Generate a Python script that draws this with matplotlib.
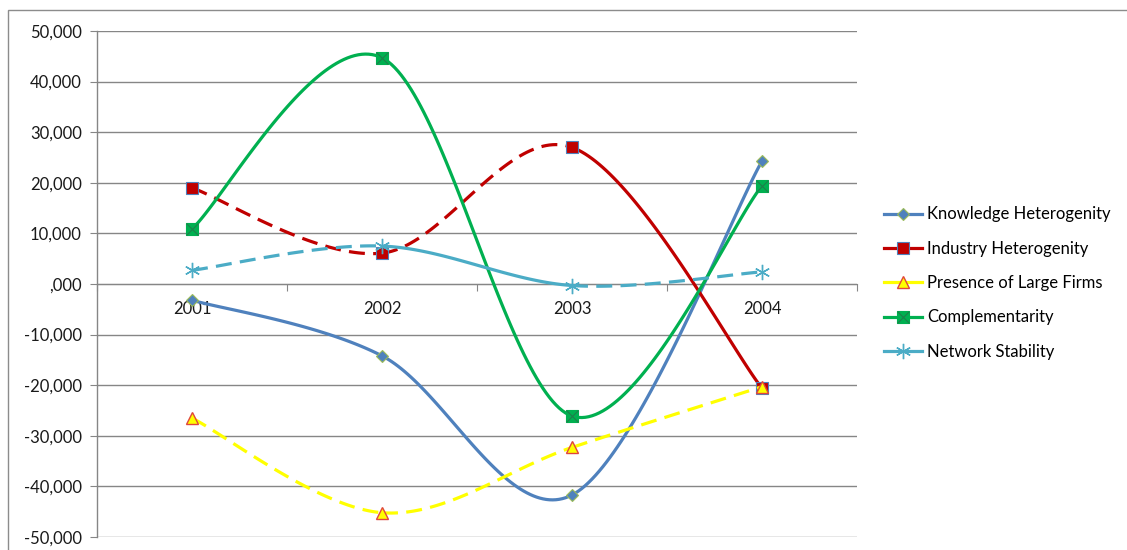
import numpy as np
import matplotlib.pyplot as plt
from matplotlib.lines import Line2D
from matplotlib.patches import Rectangle
from matplotlib.ticker import FuncFormatter

plt.rcParams['font.family'] = ['Lato', 'DejaVu Sans']

years = ["2001", "2002", "2003", "2004"]
series_names = ["Knowledge Heterogenity", "Industry Heterogenity",
                "Presence of Large Firms", "Complementarity", "Network Stability"]
knowledge = [-3200, -14200, -41700, 24300]
industry = [19000, 6100, 27000, -20600]
presence = [-26500, -45200, -32300, -20300]
complementarity = [10900, 44700, -26100, 19400]
network = [2700, 7500, -300, 2400]

# per-segment line styles (True = dashed), as in the original workbook
seg_dashed = {
    "Knowledge Heterogenity": [False, False, False],
    "Industry Heterogenity": [True, True, False],
    "Presence of Large Firms": [True, True, True],
    "Complementarity": [False, False, False],
    "Network Stability": [True, False, True],
}
colors = {
    "Knowledge Heterogenity": "#4F81BD",
    "Industry Heterogenity": "#C00000",
    "Presence of Large Firms": "#FFFF00",
    "Complementarity": "#00B050",
    "Network Stability": "#4BACC6",
}
STAR = (6, 2, 0)
markers = {
    "Knowledge Heterogenity": dict(marker="D", markersize=6, markerfacecolor="#4F81BD", markeredgecolor="#9BBB59", markeredgewidth=0.8),
    "Industry Heterogenity": dict(marker="s", markersize=8, markerfacecolor="#C00000", markeredgecolor="#4F81BD", markeredgewidth=0.8),
    "Presence of Large Firms": dict(marker="^", markersize=9, markerfacecolor="#FFFF00", markeredgecolor="#E0463C", markeredgewidth=1.0),
    "Complementarity": dict(marker="s", markersize=9, markerfacecolor="#00B050", markeredgecolor="#00B050", markeredgewidth=0.8),
    "Network Stability": dict(marker=STAR, markersize=11, markerfacecolor="#4BACC6", markeredgecolor="#4BACC6", markeredgewidth=1.0),
}

LW = 2.3
FS = 12


def smooth_segment(xs, ys, i, n=60):
    # Excel-style smoothing: cubic bezier with Catmull-Rom control points
    P = np.column_stack([xs, ys]).astype(float)
    prev = P[i - 1] if i > 0 else P[i]
    nxt = P[i + 2] if i + 2 < len(P) else P[i + 1]
    c1 = P[i] + (P[i + 1] - prev) / 6.0
    c2 = P[i + 1] - (nxt - P[i]) / 6.0
    t = np.linspace(0, 1, n)[:, None]
    b = (1 - t) ** 3 * P[i] + 3 * (1 - t) ** 2 * t * c1 + 3 * (1 - t) * t ** 2 * c2 + t ** 3 * P[i + 1]
    return b[:, 0], b[:, 1]


fig = plt.figure(figsize=(11.27, 5.50), dpi=100)
fig.patches.append(Rectangle((8 / 1127, -0.1), 1.2, 1.1 - 10 / 550,
                             transform=fig.transFigure, fill=False,
                             edgecolor="#8C8C8C", linewidth=1.0))
ax = fig.add_axes([97 / 1127, 1 - 537 / 550, 760 / 1127, 506 / 550])

x = np.arange(len(years))
data = {
    "Knowledge Heterogenity": knowledge,
    "Industry Heterogenity": industry,
    "Presence of Large Firms": presence,
    "Complementarity": complementarity,
    "Network Stability": network,
}

handles = []
for k, name in enumerate(series_names):
    ys = data[name]
    for i in range(len(x) - 1):
        sx, sy = smooth_segment(x, ys, i)
        if seg_dashed[name][i]:
            ax.plot(sx, sy, color=colors[name], lw=LW, dashes=(5, 2.6),
                    solid_capstyle="butt", zorder=3 + k)
        else:
            ax.plot(sx, sy, color=colors[name], lw=LW, solid_capstyle="round", zorder=3 + k)
    ax.plot(x, ys, linestyle="none", zorder=3.5 + k, **markers[name])
    h = Line2D([], [], color=colors[name], lw=LW, **markers[name])
    if name == "Complementarity":
        ax.plot(x, ys, linestyle="none", marker="x", markersize=8,
                markeredgecolor="#1E7F4A", markeredgewidth=0.8, zorder=3.6 + k)
        hx = Line2D([], [], linestyle="none", marker="x", markersize=8,
                    markeredgecolor="#1E7F4A", markeredgewidth=0.8)
        h = (h, hx)
    handles.append(h)

ax.set_xlim(-0.5, 3.5)
ax.set_ylim(-50000, 50000)
ax.set_yticks(np.arange(-50000, 50001, 10000))
ax.yaxis.set_major_formatter(FuncFormatter(
    lambda v, p: ",000" if v == 0 else f"{int(v):,}"))
ax.grid(axis="y", color="#868686", linewidth=1.0, zorder=0)
ax.set_axisbelow(True)

for s in ["top", "right"]:
    ax.spines[s].set_visible(False)
ax.spines["bottom"].set_position(("data", 0))
ax.spines["bottom"].set_color("#868686")
ax.spines["left"].set_color("#868686")
ax.spines["left"].set_linewidth(1.0)

ax.set_xticks([-0.5, 0.5, 1.5, 2.5, 3.5])
ax.set_xticklabels([])
ax.set_xticks(x, minor=True)
ax.set_xticklabels(years, minor=True)
ax.tick_params(axis="x", which="major", direction="out", length=5, color="#868686")
ax.tick_params(axis="x", which="minor", length=0, pad=12, labelsize=FS, labelcolor="#1a1a1a")
ax.tick_params(axis="y", direction="out", length=5, color="#868686", pad=6,
               labelsize=FS, labelcolor="#1a1a1a")
for lbl in ax.get_xticklabels(minor=True):
    lbl.set_zorder(2)

fig.legend(handles, series_names, loc="center left",
           bbox_to_anchor=(884 / 1127, 1 - 283 / 550), frameon=False,
           fontsize=FS, handlelength=2.3, handletextpad=0.3,
           labelspacing=1.1, borderaxespad=0, borderpad=0, numpoints=1)

fig.savefig("out.png", dpi=100)
